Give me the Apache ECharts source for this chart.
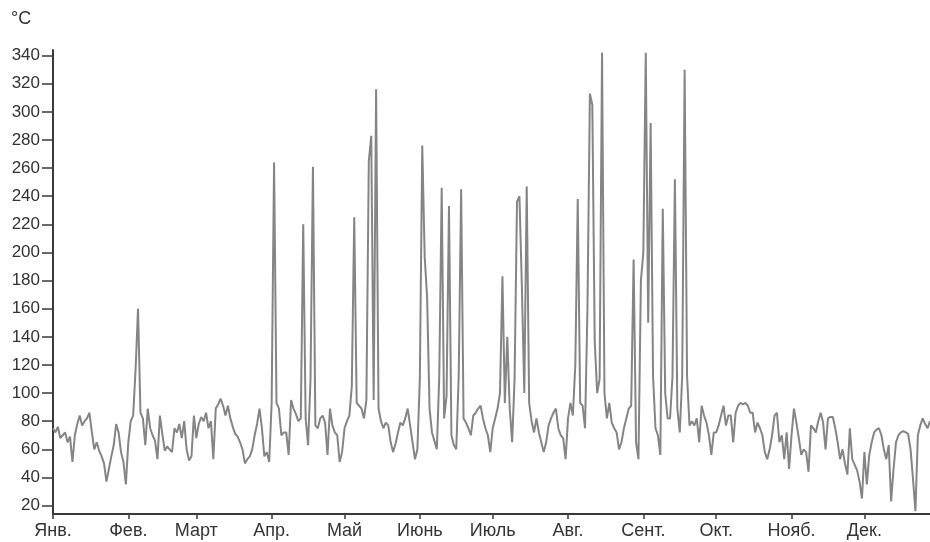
<!DOCTYPE html>
<html>
<head>
<meta charset="utf-8">
<script src="https://cdn.jsdelivr.net/npm/echarts@6/dist/echarts.min.js"></script>
<style>html,body{margin:0;padding:0;background:#fff}#c{width:930px;height:542px}</style>
</head>
<body>
<div id="c"></div>
<script>
const months = ['Янв.','Фев.','Март','Апр.','Май','Июнь','Июль','Авг.','Сент.','Окт.','Нояб.','Дек.'];
const monthStarts = [0,31,59,90,120,151,181,212,243,273,304,334];
const yTicks = [20,40,60,80,100,120,140,160,180,200,220,240,260,280,300,320,340];

const jan = [75,72,76,68,70,72,65,69,51,70,78,84,77,80,82,86,72,60,65,59,55,50,37,46,55,63,78,72,58,51,35];
const feb = [65,80,84,117,160,86,82,63,89,75,70,66,53,84,71,59,62,60,58,75,72,78,68,80,60,52,55,84];
const mar = [68,78,83,80,86,75,80,53,89,92,96,91,84,91,82,76,71,69,65,60,50,53,55,60,70,78,89,75,55,58,51];
const apr = [93,264,93,89,70,72,72,56,95,89,85,80,82,220,82,63,110,261,77,75,82,84,79,56,89,77,72,70,51,58];
const may = [75,80,84,105,225,93,91,89,82,95,265,283,95,316,89,80,75,79,77,65,58,64,72,79,77,82,89,77,65,53,60];
const jun = [110,276,197,168,89,72,66,60,112,246,82,98,233,70,63,60,112,245,82,79,75,70,84,86,89,91,82,75,70,58];
const jul = [75,82,89,100,183,93,140,89,65,110,236,240,176,100,247,93,80,72,82,72,65,58,65,77,82,86,89,75,70,68,53];
const aug = [82,93,84,120,238,93,91,75,160,313,305,136,100,110,342,100,82,93,79,75,72,60,65,75,82,89,91,195,65,53,180];
const sep = [200,342,150,292,112,75,70,56,231,100,82,82,112,252,89,72,112,330,112,77,80,77,82,65,91,84,79,70,56,72];
const oct = [72,77,84,91,77,84,84,65,86,91,93,92,93,91,86,86,72,79,75,70,58,53,60,70,84,86,65,70,53,72,46];
const nov = [70,89,79,68,56,60,58,44,77,75,72,80,86,79,60,82,83,83,75,65,53,60,50,42,75,53,49,45,37,25];
const dec = [58,35,56,65,72,74,75,70,60,53,63,23,46,65,70,72,73,72,71,60,39,16,70,77,82,78,75,80];

const values = [].concat(jan, feb, mar, apr, may, jun, jul, aug, sep, oct, nov, dec);
const data = values.map((v, i) => [i, v]);

const axisColor = '#3a3a3a';
const font = 'Liberation Sans, Arial, sans-serif';
const chart = echarts.init(document.getElementById('c'), null, {renderer: 'canvas'});
chart.setOption({
  animation: false,
  backgroundColor: '#ffffff',
  grid: {left: 53, right: 0, top: 50, bottom: 28, outerBoundsMode: 'none'},
  graphic: [{
    type: 'text', left: 11, top: 10,
    style: {text: '°C', font: '18px ' + font, fill: '#333'}
  }],
  xAxis: {
    type: 'value', min: 0, max: 361,
    splitLine: {show: false},
    axisLine: {lineStyle: {color: axisColor, width: 2}},
    axisTick: {show: true, customValues: monthStarts, length: 5, lineStyle: {color: axisColor, width: 1.5}},
    axisLabel: {
      customValues: monthStarts, showMinLabel: true, showMaxLabel: true,
      formatter: v => months[monthStarts.indexOf(v)] || '',
      color: '#333', fontSize: 18, fontFamily: font, margin: 8
    }
  },
  yAxis: {
    type: 'value', min: 14, max: 344,
    splitLine: {show: false},
    axisLine: {show: true, lineStyle: {color: axisColor, width: 2}},
    axisTick: {show: true, customValues: yTicks, length: 11, lineStyle: {color: axisColor, width: 1.5}},
    axisLabel: {customValues: yTicks, color: '#333', fontSize: 17, fontFamily: font, margin: 13}
  },
  series: [{
    type: 'line', data: data, showSymbol: false, symbol: 'none',
    lineStyle: {color: '#858585', width: 2},
    clip: true
  }]
});
</script>
</body>
</html>
